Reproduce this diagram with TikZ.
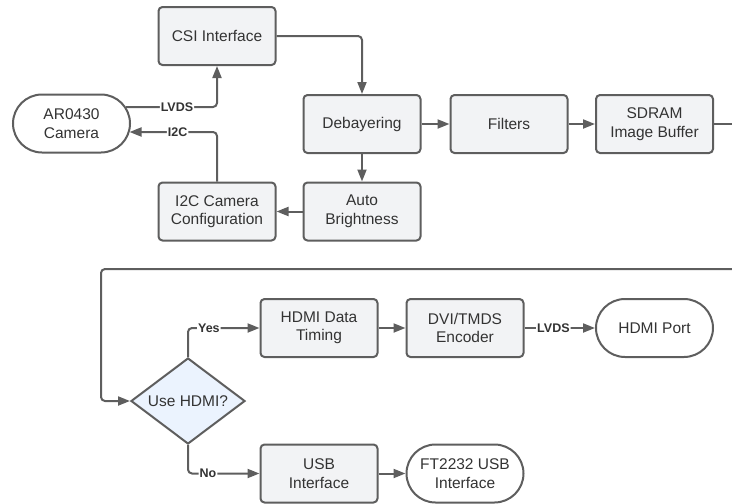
\documentclass[tikz,border=0pt]{standalone}
\usepackage{fontspec}
\setmainfont{Liberation Sans}
\usetikzlibrary{arrows.meta,shapes.geometric,shapes.misc}
\definecolor{boxfill}{HTML}{F2F3F5}
\definecolor{edge}{HTML}{5E5E5E}
\definecolor{qfill}{HTML}{EBF3FE}
\definecolor{ink}{HTML}{333333}

\begin{document}
\begin{tikzpicture}[x=1pt,y=-1pt,
  blockbox/.style={draw=edge,fill=boxfill,line width=2pt,rounded corners=4pt,
    minimum width=117pt,minimum height=58pt,inner sep=0pt,align=center,text=ink,
    font=\fontsize{15.5}{18.5}\selectfont},
  termbox/.style={rounded rectangle,draw=edge,fill=white,line width=2pt,
    minimum width=117pt,minimum height=58pt,inner sep=0pt,align=center,text=ink,
    font=\fontsize{15.5}{18.5}\selectfont},
  decbox/.style={diamond,draw=edge,fill=qfill,line width=2pt,aspect=1.33,
    minimum width=114pt,minimum height=86pt,inner sep=0pt,text=ink,
    font=\fontsize{15.5}{18.5}\selectfont},
  wire/.style={draw=edge,line width=2pt,rounded corners=4pt},
  arr/.style={wire,-{Triangle[length=12pt,width=9pt]}},
  lbl/.style={fill=white,inner sep=1pt,text=ink,font=\bfseries\fontsize{12.5}{14}\selectfont}]
\useasboundingbox (0,0) rectangle (732,504);

\node[termbox] (cam) at (71.5,123.5) {AR0430\\Camera};
\node[blockbox] (csi) at (217,36) {CSI Interface};
\node[blockbox] (i2c) at (217,211.5) {I2C Camera\\Configuration};
\node[blockbox] (deb) at (362,124) {Debayering};
\node[blockbox] (bright) at (362,211.5) {Auto\\Brightness};
\node[blockbox] (filt) at (509,124) {Filters};
\node[blockbox] (sdram) at (654.5,124) {SDRAM\\Image Buffer};

\node[decbox] (hdmiq) at (188,401) {Use HDMI?};
\node[blockbox] (hdt) at (319,328) {HDMI Data\\Timing};
\node[blockbox] (dvi) at (465,328) {DVI/TMDS\\Encoder};
\node[termbox] (port) at (654.5,328) {HDMI Port};
\node[blockbox] (usb) at (319,473.5) {USB\\Interface};
\node[termbox] (ft) at (465,473.5) {FT2232 USB\\Interface};

\coordinate (camlvds) at ([xshift=-5pt,yshift=16.5pt]cam.east);
\coordinate (cami2c) at ([xshift=-1.5pt,yshift=-8.5pt]cam.east);
\coordinate (outr) at (732,124);
\coordinate (backr) at (732,269);
\coordinate (backl) at (101,269);

\draw[arr] (camlvds) -| node[lbl,pos=0.28] {LVDS} (csi.south);
\draw[arr] (i2c.north) |- node[lbl,pos=0.725] {I2C} (cami2c);
\draw[arr] (csi.east) -| (deb.north);
\draw[arr] (deb.south) -- (bright.north);
\draw[arr] (bright.west) -- (i2c.east);
\draw[arr] (deb.east) -- (filt.west);
\draw[arr] (filt.east) -- (sdram.west);
\draw[wire] (sdram.east) -- (outr);

\draw[arr] (backr) -- (backl) |- (hdmiq.west);
\draw[arr] (hdmiq.north) |- node[lbl,pos=0.646] {Yes} (hdt.west);
\draw[arr] (hdt.east) -- (dvi.west);
\draw[arr] (dvi.east) -- node[lbl,pos=0.41] {LVDS} (port.west);
\draw[arr] (hdmiq.south) |- node[lbl,pos=0.64] {No} (usb.west);
\draw[arr] (usb.east) -- (ft.west);
\end{tikzpicture}
\end{document}
